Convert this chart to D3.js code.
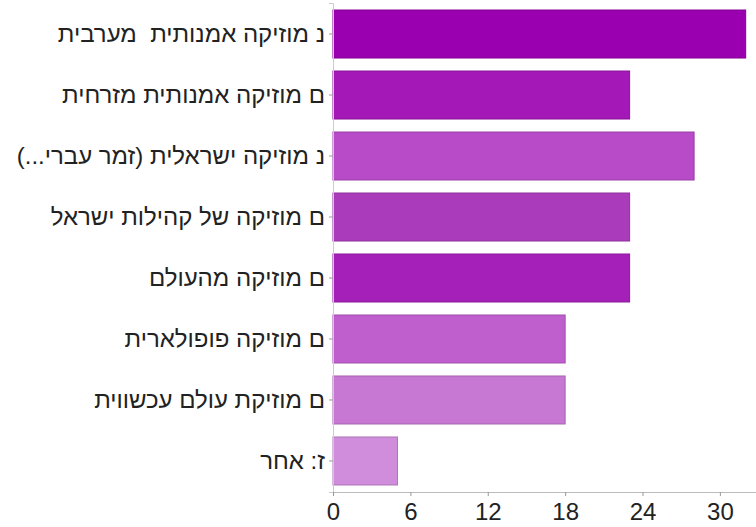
<!DOCTYPE html>
<html>
<head>
<meta charset="utf-8">
<script src="https://cdn.jsdelivr.net/npm/d3@7"></script>
<style>
  body { margin: 0; background: #fff; }
  svg { display: block; font-family: "Liberation Sans", Arial, sans-serif; }
  .y-label { white-space: pre; }
</style>
</head>
<body>
<svg id="chart" width="756" height="527"></svg>
<script>
const categories = [
  "נ מוזיקה אמנותית  מערבית",
  "ם מוזיקה אמנותית מזרחית",
  "נ מוזיקה ישראלית (זמר עברי...)",
  "ם מוזיקה של קהילות ישראל",
  "ם מוזיקה מהעולם",
  "ם מוזיקה פופולארית",
  "ם מוזיקת עולם עכשווית",
  "ז: אחר",
];
const counts = [32, 23, 28, 23, 23, 18, 18, 5];
const colors = ["#9a00af", "#a318b6", "#b84bc8", "#aa3cbc", "#a420b8", "#bf5fcd", "#c678d2", "#d08ddb"];
const xTicks = [0, 6, 12, 18, 24, 30];

const svg = d3.select('#chart');
const left = 333;
const right = 756;
const axisY = 492;

const x = d3.scaleLinear()
  .domain([0, 32.8])
  .range([left, right]);

const y = d3.scaleBand()
  .domain(categories)
  .range([3, axisY])
  .paddingInner(0.213)
  .paddingOuter(0.115);

// bars
svg.append('g').selectAll('rect')
  .data(counts)
  .enter().append('rect')
    .attr('x', x(0))
    .attr('y', (d, i) => y(categories[i]))
    .attr('width', d => x(d) - x(0))
    .attr('height', y.bandwidth())
    .attr('fill', (d, i) => colors[i])
    .attr('stroke', (d, i) => d3.color(colors[i]).darker(0.5))
    .attr('stroke-width', 1);

// left axis
const yAxis = svg.append('g')
  .attr('transform', `translate(${left},0)`)
  .call(d3.axisLeft(y).tickSize(4).tickPadding(4));

yAxis.select('.domain').attr('stroke', '#ccc');
yAxis.selectAll('.tick line').attr('stroke', '#999');
yAxis.selectAll('.tick text')
  .attr('class', 'y-label')
  .attr('direction', 'rtl')
  .attr('text-anchor', 'start')
  .attr('font-size', 24)
  .attr('font-family', '"Liberation Sans", Arial, sans-serif')
  .attr('fill', '#222');

// bottom axis
const xAxis = svg.append('g')
  .attr('transform', `translate(0,${axisY})`)
  .call(d3.axisBottom(x).tickValues(xTicks).tickSize(4).tickPadding(7));

xAxis.select('.domain').attr('stroke', '#bbb');
xAxis.selectAll('.tick line').attr('stroke', '#999');
xAxis.selectAll('.tick text')
  .attr('font-size', 24)
  .attr('font-family', '"Liberation Sans", Arial, sans-serif')
  .attr('fill', '#222');
</script>
</body>
</html>
